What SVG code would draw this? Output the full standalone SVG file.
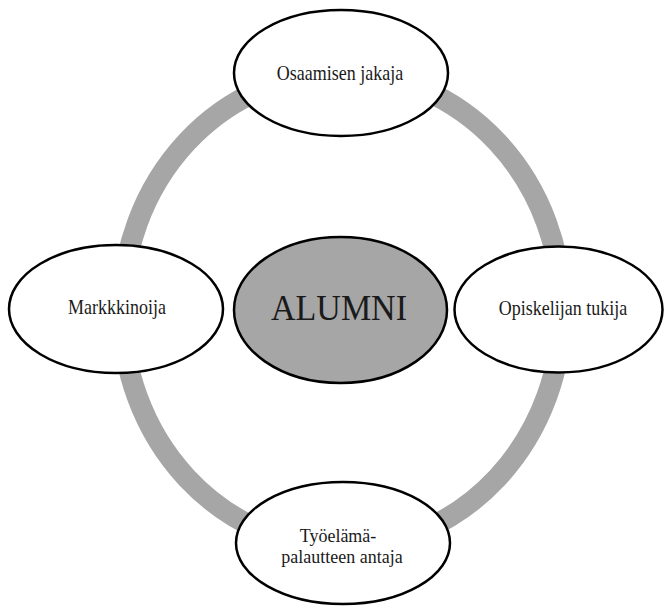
<svg xmlns="http://www.w3.org/2000/svg" width="664" height="608" viewBox="0 0 664 608">
  <style>
    .node { fill: #ffffff; stroke: #000000; stroke-width: 2.5; }
    .core { fill: #a6a6a6; stroke: #000000; stroke-width: 2.5; }
    .ring { fill: none; stroke: #a6a6a6; stroke-width: 21; }
    .lbl { font-family: "Liberation Serif", "Times New Roman", serif; font-size: 18px; fill: #1a1a1a; text-anchor: middle; }
    .big { font-family: "Liberation Serif", "Times New Roman", serif; font-size: 34px; fill: #1a1a1a; text-anchor: middle; }
  </style>
  <rect width="664" height="608" fill="#ffffff"/>
  <g id="connectors">
    <ellipse class="ring" cx="342" cy="310" rx="220" ry="237"/>
  </g>
  <g id="node-top">
    <ellipse class="node" cx="341" cy="73" rx="107" ry="63"/>
    <text class="lbl" transform="translate(340,80) scale(1,1.12)">Osaamisen jakaja</text>
  </g>
  <g id="node-left">
    <ellipse class="node" cx="116" cy="309" rx="107" ry="64"/>
    <text class="lbl" transform="translate(117,314) scale(1,1.12)">Markkkinoija</text>
  </g>
  <g id="node-right">
    <ellipse class="node" cx="558.5" cy="309.5" rx="104" ry="63"/>
    <text class="lbl" transform="translate(563,315) scale(1,1.12)">Opiskelijan tukija</text>
  </g>
  <g id="node-bottom">
    <ellipse class="node" cx="343" cy="543" rx="107" ry="61"/>
    <text class="lbl" transform="translate(338,542) scale(1,1.1)">Työelämä-</text>
    <text class="lbl" transform="translate(342,563) scale(1,1.1)">palautteen antaja</text>
  </g>
  <g id="node-center">
    <ellipse class="core" cx="340.5" cy="310" rx="106.5" ry="73"/>
    <text class="big" transform="translate(339,320) scale(1,1.05)">ALUMNI</text>
  </g>
</svg>
